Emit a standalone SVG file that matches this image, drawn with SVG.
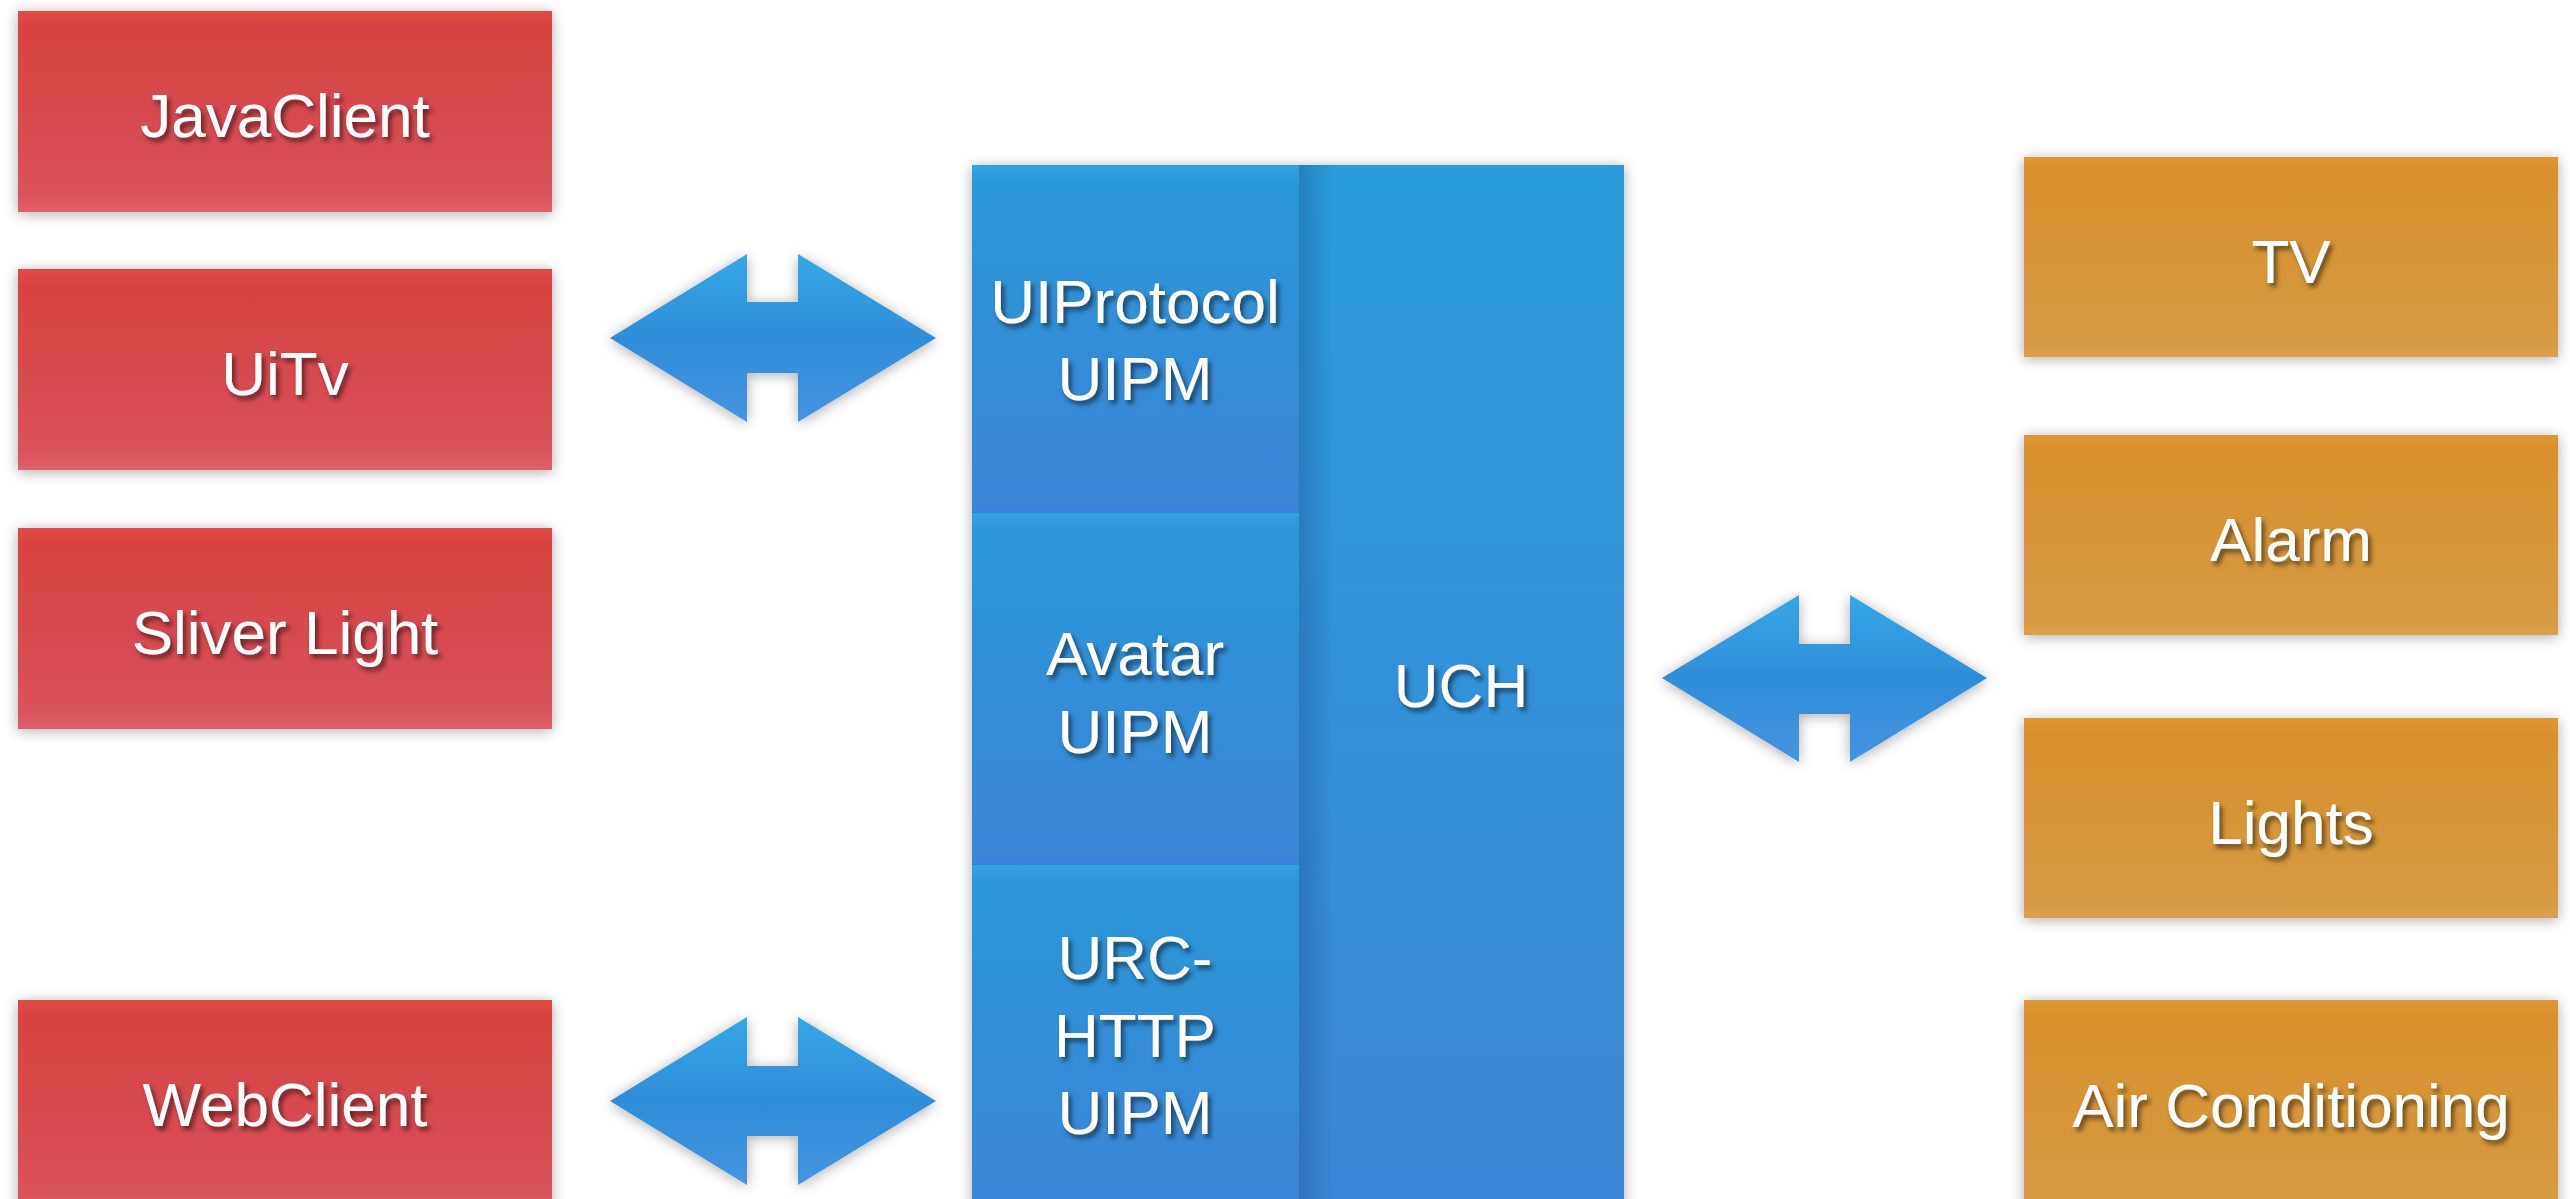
<svg xmlns="http://www.w3.org/2000/svg" width="2570" height="1199" viewBox="0 0 2570 1199">
<defs>
<linearGradient id="gRed" x1="0" y1="0" x2="0" y2="1">
<stop offset="0" stop-color="#E24B45"/>
<stop offset="0.08" stop-color="#D8433F"/>
<stop offset="0.5" stop-color="#D74A4E"/>
<stop offset="0.9" stop-color="#D9525C"/>
<stop offset="1" stop-color="#E0606B"/>
</linearGradient>
<linearGradient id="gOrange" x1="0" y1="0" x2="0" y2="1">
<stop offset="0" stop-color="#E09834"/>
<stop offset="0.08" stop-color="#D8902C"/>
<stop offset="0.92" stop-color="#D69A44"/>
<stop offset="1" stop-color="#DCA04E"/>
</linearGradient>
<linearGradient id="gBlueCell" x1="0" y1="0" x2="0" y2="1">
<stop offset="0" stop-color="#30A4E2"/>
<stop offset="0.05" stop-color="#2A97D8"/>
<stop offset="1" stop-color="#3D85D6"/>
</linearGradient>
<linearGradient id="gUCH" x1="0" y1="0" x2="0" y2="1">
<stop offset="0" stop-color="#2A9CDB"/>
<stop offset="1" stop-color="#3C86D6"/>
</linearGradient>
<linearGradient id="gSideShade" x1="0" y1="0" x2="1" y2="0">
<stop offset="0" stop-color="#1F4F8A" stop-opacity="0.35"/>
<stop offset="1" stop-color="#1F4F8A" stop-opacity="0"/>
</linearGradient>
<linearGradient id="gArrow" x1="0" y1="0" x2="0" y2="1">
<stop offset="0" stop-color="#35A8E5"/>
<stop offset="0.5" stop-color="#2F8DD8"/>
<stop offset="1" stop-color="#4694E0"/>
</linearGradient>
<filter id="boxShadow" x="-10%" y="-15%" width="120%" height="130%">
<feDropShadow dx="0" dy="2" stdDeviation="7" flood-color="#000" flood-opacity="0.32"/>
</filter>
<filter id="textShadow" x="-10%" y="-30%" width="125%" height="160%">
<feDropShadow dx="3" dy="4" stdDeviation="2.5" flood-color="#000" flood-opacity="0.55"/>
</filter>
</defs>
<style>
.lbl{font-family:"Liberation Sans",Arial,Helvetica,sans-serif;font-size:62px;fill:#FFFFFF;text-anchor:middle;filter:url(#textShadow)}
.red{fill:url(#gRed);filter:url(#boxShadow)}
.orange{fill:url(#gOrange);filter:url(#boxShadow)}
.cell{fill:url(#gBlueCell)}
.arrow{fill:url(#gArrow);filter:url(#boxShadow)}
.sep{stroke:#2B86E6;stroke-width:2;fill:none}
</style>
<rect x="0" y="0" width="2570" height="1199" fill="#FFFFFF"/>

<g id="JavaClient">
<rect class="red" x="18" y="11" width="534" height="201"/>
<text class="lbl" x="285" y="137">JavaClient</text>
</g>
<g id="UiTv">
<rect class="red" x="18" y="269" width="534" height="201"/>
<text class="lbl" x="285" y="395">UiTv</text>
</g>
<g id="SliverLight">
<rect class="red" x="18" y="528" width="534" height="201"/>
<text class="lbl" x="285" y="654">Sliver Light</text>
</g>
<g id="WebClient">
<rect class="red" x="18" y="1000" width="534" height="215"/>
<text class="lbl" x="285" y="1126">WebClient</text>
</g>

<g id="BlueBlock">
<rect x="972" y="165" width="652" height="1050" fill="url(#gUCH)" filter="url(#boxShadow)"/>
</g>
<g id="UCH">
<rect x="1299" y="165" width="325" height="1050" fill="url(#gUCH)"/>
<rect x="1299" y="165" width="34" height="1050" fill="url(#gSideShade)"/>
<text class="lbl" x="1461" y="707">UCH</text>
</g>
<g id="UIProtocolUIPM">
<rect class="cell" x="972" y="165" width="327" height="347"/>
<text class="lbl" x="1135" y="323">UIProtocol</text>
<text class="lbl" x="1135" y="400">UIPM</text>
</g>
<g id="AvatarUIPM">
<rect class="cell" x="972" y="512" width="327" height="352"/>
<line class="sep" x1="972" y1="512" x2="1299" y2="512"/>
<text class="lbl" x="1135" y="675">Avatar</text>
<text class="lbl" x="1135" y="753">UIPM</text>
</g>
<g id="URCHTTPUIPM">
<rect class="cell" x="972" y="864" width="327" height="351"/>
<line class="sep" x1="972" y1="864" x2="1299" y2="864"/>
<text class="lbl" x="1135" y="979">URC-</text>
<text class="lbl" x="1135" y="1057">HTTP</text>
<text class="lbl" x="1135" y="1134">UIPM</text>
</g>

<g id="TV">
<rect class="orange" x="2024" y="157" width="534" height="200"/>
<text class="lbl" x="2291" y="283">TV</text>
</g>
<g id="Alarm">
<rect class="orange" x="2024" y="435" width="534" height="200"/>
<text class="lbl" x="2291" y="561">Alarm</text>
</g>
<g id="Lights">
<rect class="orange" x="2024" y="718" width="534" height="200"/>
<text class="lbl" x="2291" y="844">Lights</text>
</g>
<g id="AirConditioning">
<rect class="orange" x="2024" y="1000" width="534" height="215"/>
<text class="lbl" x="2291" y="1127">Air Conditioning</text>
</g>

<g id="connectors">
<polygon class="arrow" points="610,338 747,254 747,302 798,302 798,254 936,338 798,422 798,373 747,373 747,422"/>
<polygon class="arrow" points="610,1101 747,1017 747,1066 798,1066 798,1017 936,1101 798,1185 798,1136 747,1136 747,1185"/>
<polygon class="arrow" points="1662,678 1799,595 1799,644 1850,644 1850,595 1987,678 1850,762 1850,714 1799,714 1799,762"/>
</g>
</svg>
